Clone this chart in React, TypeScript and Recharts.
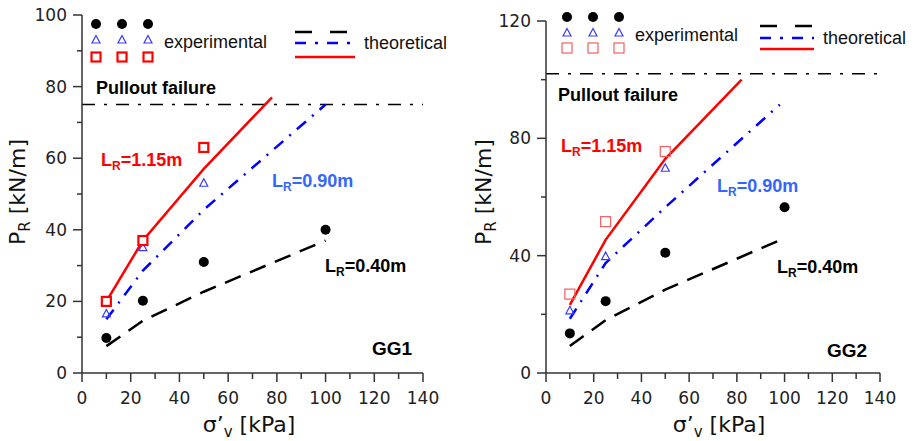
import React from 'react';
import { ComposedChart, Line, Scatter, XAxis, YAxis, ReferenceLine } from 'recharts';

// axis ticks
const xTicks = [0, 10, 20, 30, 40, 50, 60, 70, 80, 90, 100, 110, 120, 130, 140];
const xMajor = [0, 20, 40, 60, 80, 100, 120, 140];
const gg1YTicks = [0, 10, 20, 30, 40, 50, 60, 70, 80, 90, 100];
const gg1YMajor = [0, 20, 40, 60, 80, 100];
const gg2YTicks = [0, 20, 40, 60, 80, 100, 120];
const gg2YMajor = [0, 40, 80, 120];

// GG1 experimental (sigma'v in kPa, PR in kN/m)
const gg1ExpSigma040 = [10, 25, 50, 100];
const gg1Exp040 = [9.8, 20.2, 31, 40];
const gg1ExpSigma090 = [10, 25, 50];
const gg1Exp090 = [16.5, 35, 53];
const gg1ExpSigma115 = [10, 25, 50];
const gg1Exp115 = [20, 37, 63];

// GG1 theoretical
const gg1ThSigma040 = [10, 25, 50, 100];
const gg1Th040 = [7.5, 14.6, 22.7, 37];
const gg1ThSigma090 = [10, 25, 50, 100];
const gg1Th090 = [15, 28.6, 45.6, 75];
const gg1ThSigma115 = [10, 25, 50, 78];
const gg1Th115 = [20, 37, 57, 77];
const gg1Pullout = 75;

// GG2 experimental
const gg2ExpSigma040 = [10, 25, 50, 100];
const gg2Exp040 = [13.5, 24.5, 41, 56.5];
const gg2ExpSigma090 = [10, 25, 50];
const gg2Exp090 = [21.2, 39.7, 69.8];
const gg2ExpSigma115 = [10, 25, 50];
const gg2Exp115 = [26.9, 51.6, 75.5];

// GG2 theoretical
const gg2ThSigma040 = [10, 25, 50, 100];
const gg2Th040 = [9.2, 18, 28.4, 46];
const gg2ThSigma090 = [10, 25, 50, 98];
const gg2Th090 = [18.5, 37.5, 56.5, 91.5];
const gg2ThSigma115 = [10, 25, 50, 82];
const gg2Th115 = [23.2, 45.4, 73, 100];
const gg2Pullout = 102;

const zip = (xs: number[], ys: number[]) => xs.map((x, i) => ({ x, y: ys[i] }));

const AXIS = '#333';
const TICK_FONT = 'DejaVu Sans, sans-serif';
const TEXT_FONT = 'Liberation Sans, Arial, sans-serif';

const YTick = (props: any) => {
  const { x, y, payload, major } = props;
  const ax = x + 13;
  const isMajor = major.includes(payload.value);
  return (
    <g>
      <line x1={ax - (isMajor ? 9 : 5)} x2={ax} y1={y} y2={y} stroke={AXIS} strokeWidth={1.5} />
      {isMajor && (
        <text x={ax - 15} y={y + 6} textAnchor="end" fontSize={17} fontFamily={TICK_FONT} fill="#222">
          {payload.value}
        </text>
      )}
    </g>
  );
};

const XTick = (props: any) => {
  const { x, y, payload } = props;
  const ay = y - 13;
  const isMajor = xMajor.includes(payload.value);
  return (
    <g>
      <line x1={x} x2={x} y1={ay} y2={ay + (isMajor ? 9 : 6)} stroke={AXIS} strokeWidth={1.5} />
      {isMajor && (
        <text x={x} y={ay + 31} textAnchor="middle" fontSize={17} fontFamily={TICK_FONT} fill="#222">
          {payload.value}
        </text>
      )}
    </g>
  );
};

const CircleMark = (p: any) => <circle cx={p.cx} cy={p.cy} r={5} fill="#000" />;
const TriMark = (p: any) => (
  <path
    d={`M${p.cx},${p.cy - 4.5} L${p.cx + 4},${p.cy + 3} L${p.cx - 4},${p.cy + 3} Z`}
    fill="none"
    stroke="#3a3aff"
    strokeWidth={1.2}
  />
);
const SquareThick = (p: any) => (
  <rect x={p.cx - 4.5} y={p.cy - 4.5} width={9} height={9} fill="#fff" stroke="#ff0000" strokeWidth={2.2} />
);
const SquareThin = (p: any) => (
  <rect x={p.cx - 5} y={p.cy - 5} width={10} height={10} fill="none" stroke="#f06060" strokeWidth={1.2} />
);

interface PanelProps {
  left: number;
  width: number;
  top: number;
  right: number;
  yWidth: number;
  yMax: number;
  yTicks: number[];
  yMajor: number[];
  pullout: number;
  th040: { x: number; y: number }[];
  th090: { x: number; y: number }[];
  th115: { x: number; y: number }[];
  exp040: { x: number; y: number }[];
  exp090: { x: number; y: number }[];
  exp115: { x: number; y: number }[];
  square: (p: any) => React.ReactElement;
}

function Panel(pp: PanelProps) {
  return (
    <div style={{ position: 'absolute', left: pp.left, top: 0 }}>
      <ComposedChart width={pp.width} height={441} margin={{ top: pp.top, right: pp.right, bottom: 0, left: 0 }}>
        <XAxis
          type="number"
          dataKey="x"
          domain={[0, 140]}
          ticks={xTicks}
          interval={0}
          height={68}
          axisLine={{ stroke: AXIS, strokeWidth: 1.5 }}
          tickLine={false}
          tickSize={8}
          tickMargin={5}
          tick={(p: any) => <XTick {...p} />}
        />
        <YAxis
          type="number"
          domain={[0, pp.yMax]}
          ticks={pp.yTicks}
          interval={0}
          width={pp.yWidth}
          axisLine={{ stroke: AXIS, strokeWidth: 1.5 }}
          tickLine={false}
          tickSize={8}
          tickMargin={5}
          tick={(p: any) => <YTick {...p} major={pp.yMajor} />}
        />
        <ReferenceLine y={pp.pullout} stroke="#000" strokeWidth={1.5} strokeDasharray="13 9 3 9" />
        <Line data={pp.th040} dataKey="y" stroke="#000" strokeWidth={2.5} strokeDasharray="17 10" dot={false} isAnimationActive={false} />
        <Line data={pp.th090} dataKey="y" stroke="#0000ff" strokeWidth={2.5} strokeDasharray="12 8 2 8" dot={false} isAnimationActive={false} />
        <Line data={pp.th115} dataKey="y" stroke="#ff0000" strokeWidth={2.5} dot={false} isAnimationActive={false} />
        <Scatter data={pp.exp040} dataKey="y" shape={CircleMark} isAnimationActive={false} />
        <Scatter data={pp.exp090} dataKey="y" shape={TriMark} isAnimationActive={false} />
        <Scatter data={pp.exp115} dataKey="y" shape={pp.square} isAnimationActive={false} />
      </ComposedChart>
    </div>
  );
}

const LR = ({ x, y, value, color }: { x: number; y: number; value: string; color: string }) => (
  <text x={x} y={y} fontFamily={TEXT_FONT} fontWeight="bold" fontSize={18} fill={color}>
    L<tspan fontSize={12} dy={4}>R</tspan>
    <tspan dy={-4}>={value}</tspan>
  </text>
);

const YTitle = ({ x, y }: { x: number; y: number }) => (
  <text x={x} y={y} transform={`rotate(-90 ${x} ${y})`} textAnchor="middle" fontFamily={TICK_FONT} fontSize={22} fill="#111">
    P<tspan fontSize={15} dy={5}>R</tspan>
    <tspan dy={-5}> [kN/m]</tspan>
  </text>
);

const XTitle = ({ x, y }: { x: number; y: number }) => (
  <text x={x} y={y} textAnchor="middle" fontFamily={TICK_FONT} fontSize={22} fill="#111">
    σ’<tspan fontSize={15} dy={5}>v</tspan>
    <tspan dy={-5}> [kPa]</tspan>
  </text>
);

const Legend = (lg: {
  mx: number[];
  rows: number[];
  textX: number;
  textY: number;
  lineX: number[];
  lineY: number[];
  thX: number;
  thY: number;
  square: (p: any) => React.ReactElement;
}) => (
  <g>
    {lg.mx.map((x) => (
      <g key={x}>
        <CircleMark cx={x} cy={lg.rows[0]} />
        <TriMark cx={x} cy={lg.rows[1]} />
        {lg.square({ cx: x, cy: lg.rows[2] })}
      </g>
    ))}
    <text x={lg.textX} y={lg.textY} fontFamily={TEXT_FONT} fontSize={18} fill="#111">
      experimental
    </text>
    <line x1={lg.lineX[0]} x2={lg.lineX[1]} y1={lg.lineY[0]} y2={lg.lineY[0]} stroke="#000" strokeWidth={2.5} strokeDasharray="17 18" />
    <line x1={lg.lineX[0]} x2={lg.lineX[1]} y1={lg.lineY[1]} y2={lg.lineY[1]} stroke="#0000ff" strokeWidth={2.5} strokeDasharray="11 9 3 9" />
    <line x1={lg.lineX[0]} x2={lg.lineX[1]} y1={lg.lineY[2]} y2={lg.lineY[2]} stroke="#ff0000" strokeWidth={2.5} />
    <text x={lg.thX} y={lg.thY} fontFamily={TEXT_FONT} fontSize={18} fill="#111">
      theoretical
    </text>
  </g>
);

export default function App() {
  return (
    <div style={{ position: 'absolute', left: 0, top: 0, width: 914, height: 441, background: '#fff', overflow: 'hidden' }}>
      <Panel
        left={0}
        width={455}
        top={15}
        right={32}
        yWidth={82}
        yMax={100}
        yTicks={gg1YTicks}
        yMajor={gg1YMajor}
        pullout={gg1Pullout}
        th040={zip(gg1ThSigma040, gg1Th040)}
        th090={zip(gg1ThSigma090, gg1Th090)}
        th115={zip(gg1ThSigma115, gg1Th115)}
        exp040={zip(gg1ExpSigma040, gg1Exp040)}
        exp090={zip(gg1ExpSigma090, gg1Exp090)}
        exp115={zip(gg1ExpSigma115, gg1Exp115)}
        square={SquareThick}
      />
      <Panel
        left={455}
        width={459}
        top={21}
        right={34}
        yWidth={91}
        yMax={120}
        yTicks={gg2YTicks}
        yMajor={gg2YMajor}
        pullout={gg2Pullout}
        th040={zip(gg2ThSigma040, gg2Th040)}
        th090={zip(gg2ThSigma090, gg2Th090)}
        th115={zip(gg2ThSigma115, gg2Th115)}
        exp040={zip(gg2ExpSigma040, gg2Exp040)}
        exp090={zip(gg2ExpSigma090, gg2Exp090)}
        exp115={zip(gg2ExpSigma115, gg2Exp115)}
        square={SquareThin}
      />
      <svg width={914} height={441} style={{ position: 'absolute', left: 0, top: 0, pointerEvents: 'none' }}>
        {/* GG1 annotations */}
        <Legend
          mx={[96, 122, 148]}
          rows={[24, 40, 57]}
          textX={164}
          textY={48}
          lineX={[295, 355]}
          lineY={[32, 43, 57]}
          thX={364}
          thY={49}
          square={SquareThick}
        />
        <text x={96} y={94} fontFamily={TEXT_FONT} fontWeight="bold" fontSize={18} fill="#000">
          Pullout failure
        </text>
        <LR x={101} y={166} value="1.15m" color="#ff0000" />
        <LR x={272} y={187} value="0.90m" color="#3366ff" />
        <LR x={325} y={272} value="0.40m" color="#000" />
        <text x={372} y={355} fontFamily={TEXT_FONT} fontWeight="bold" fontSize={19} fill="#000">
          GG1
        </text>
        <YTitle x={25} y={192} />
        <XTitle x={249} y={432} />

        {/* GG2 annotations */}
        <Legend
          mx={[567, 593, 619]}
          rows={[17, 33, 48]}
          textX={635}
          textY={41}
          lineX={[760, 814]}
          lineY={[26, 38, 49]}
          thX={823}
          thY={44}
          square={SquareThin}
        />
        <text x={558} y={101} fontFamily={TEXT_FONT} fontWeight="bold" fontSize={18} fill="#000">
          Pullout failure
        </text>
        <LR x={561} y={152} value="1.15m" color="#ff0000" />
        <LR x={717} y={192} value="0.90m" color="#3366ff" />
        <LR x={777} y={273} value="0.40m" color="#000" />
        <text x={827} y={357} fontFamily={TEXT_FONT} fontWeight="bold" fontSize={19} fill="#000">
          GG2
        </text>
        <YTitle x={491} y={192} />
        <XTitle x={719} y={432} />
      </svg>
    </div>
  );
}
